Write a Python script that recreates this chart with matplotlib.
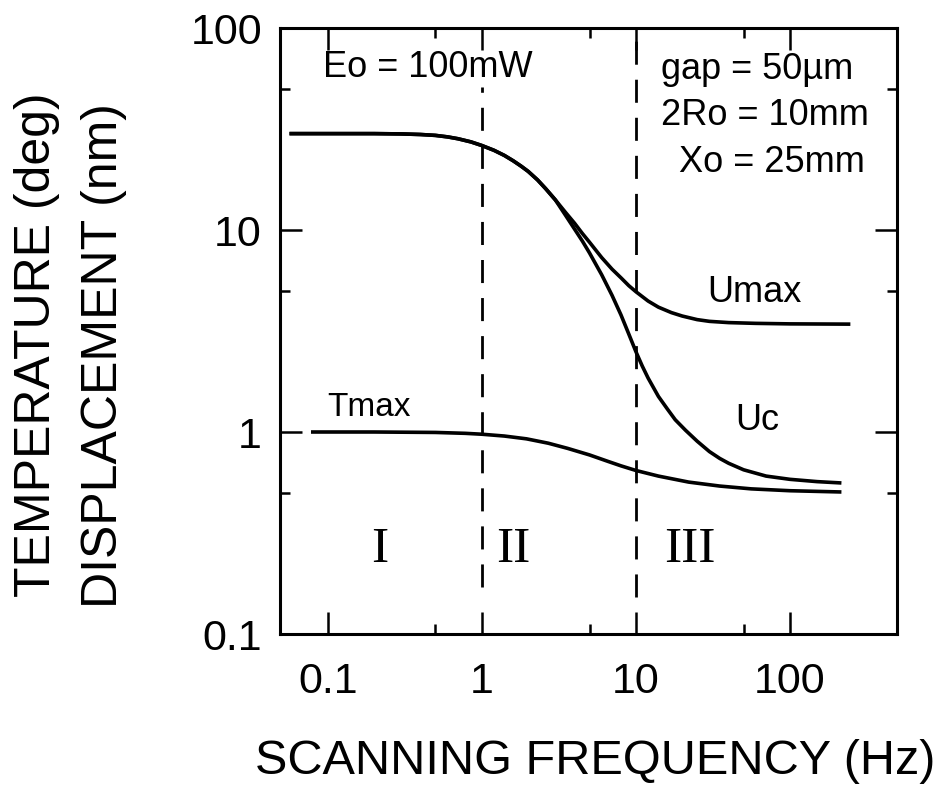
"""
Recreation: temperature / displacement vs. scanning frequency (log-log).
"""
import matplotlib
matplotlib.use('Agg')
import matplotlib.pyplot as plt
import matplotlib.ticker as mticker

plt.rcParams['font.family'] = ['Liberation Sans', 'DejaVu Sans']

# ── Data (frequency in Hz) ─────────────────────────────────
# Umax and Uc coincide up to ~3 Hz
u_common_freq = [0.058, 0.1, 0.2, 0.3, 0.4, 0.5, 0.6, 0.7, 0.85, 1.0, 1.2, 1.4,
                 1.6, 1.8, 2.0, 2.3, 2.6, 3.0]
u_common_vals = [30, 30, 30, 29.9, 29.7, 29.4, 28.9, 28.3, 27.3, 26.2, 24.8, 23.4,
                 22.0, 20.7, 19.5, 17.7, 16.0, 14.1]

umax_tail_freq = [3.5, 4.0, 4.5, 5, 6, 7, 8, 9, 10, 12, 14, 17, 20, 25, 30, 40,
                  60, 100, 240]
umax_tail_vals = [12.2, 10.8, 9.6, 8.7, 7.3, 6.4, 5.8, 5.3, 4.95, 4.45, 4.15, 3.9,
                  3.75, 3.6, 3.53, 3.48, 3.45, 3.43, 3.42]

uc_tail_freq = [3.5, 4.0, 4.5, 5, 6, 7, 8, 9, 10, 11, 12, 14, 16, 18, 21, 25, 30,
                35, 40, 50, 70, 100, 150, 210]
uc_tail_vals = [11.8, 10.1, 8.8, 7.7, 6.0, 4.75, 3.8, 3.05, 2.5, 2.12, 1.85, 1.5,
                1.3, 1.15, 1.02, 0.9, 0.8, 0.74, 0.7, 0.65, 0.605, 0.583, 0.568, 0.56]

tmax_freq = [0.08, 0.2, 0.5, 0.78, 1.0, 1.4, 1.95, 2.7, 3.6, 5, 6.6, 8, 10, 14, 22,
             35, 56, 100, 210]
tmax_vals = [1.0, 1.0, 0.995, 0.985, 0.975, 0.955, 0.925, 0.88, 0.83, 0.77, 0.715,
             0.68, 0.645, 0.605, 0.565, 0.54, 0.523, 0.512, 0.505]

region_bounds = [1, 10]          # dashed separators (Hz)
region_labels = ['I', 'II', 'III']
region_label_freq = [0.218, 1.6, 22.4]

umax_freq = u_common_freq + umax_tail_freq
umax_vals = u_common_vals + umax_tail_vals
uc_freq = u_common_freq + uc_tail_freq
uc_vals = u_common_vals + uc_tail_vals

# ── Figure ─────────────────────────────────────────────────
fig = plt.figure(figsize=(9.38, 7.88), dpi=100)
ax = fig.add_axes([280 / 938, 1 - 634 / 788, 617 / 938, 606 / 788])

ax.plot(umax_freq, umax_vals, '-', color='black', linewidth=2.6)
ax.plot(uc_freq, uc_vals, '-', color='black', linewidth=2.6)
ax.plot(tmax_freq, tmax_vals, '-', color='black', linewidth=2.6)

# region separators
ax.plot([region_bounds[0]] * 2, [0.17, 51], color='black', linewidth=2.0,
        linestyle=(0, (8.3, 5.4)))
ax.plot([region_bounds[1]] * 2, [0.152, 97], color='black', linewidth=2.0,
        linestyle=(0, (8.3, 5.4)))

ax.set_xscale('log')
ax.set_yscale('log')
ax.set_xlim(0.049, 495)
ax.set_ylim(0.1, 100)

ax.xaxis.set_major_locator(mticker.FixedLocator([0.1, 1, 10, 100]))
ax.xaxis.set_minor_locator(mticker.FixedLocator([0.5, 5, 50]))
ax.yaxis.set_major_locator(mticker.FixedLocator([0.1, 1, 10, 100]))
ax.yaxis.set_minor_locator(mticker.FixedLocator([0.5, 5, 50]))
ax.xaxis.set_major_formatter(mticker.FixedFormatter(['0.1', '1', '10', '100']))
ax.yaxis.set_major_formatter(mticker.FixedFormatter(['0.1', '1', '10', '100']))
ax.xaxis.set_minor_formatter(mticker.NullFormatter())
ax.yaxis.set_minor_formatter(mticker.NullFormatter())

ax.tick_params(which='both', direction='in', top=True, right=True, width=1.8)
ax.tick_params(which='major', length=16, labelsize=31)
ax.tick_params(axis='x', which='major', pad=20)
ax.tick_params(axis='y', which='major', pad=13)
ax.tick_params(which='minor', length=7)
for s in ax.spines.values():
    s.set_linewidth(2.2)

# ── Annotations ────────────────────────────────────────────
fs = 26
ax.text(0.093, 57, 'Eo = 100mW', fontsize=fs, va='baseline')
ax.text(14.5, 56, 'gap = 50µm', fontsize=fs, va='baseline')
ax.text(14.5, 33, '2Ro = 10mm', fontsize=fs, va='baseline')
ax.text(19, 19.4, 'Xo = 25mm', fontsize=fs, va='baseline')
ax.text(29, 4.4, 'Umax', fontsize=fs, va='baseline')
ax.text(44, 1.02, 'Uc', fontsize=fs, va='baseline')
ax.text(0.099, 1.2, 'Tmax', fontsize=24, va='baseline')
for lab, f in zip(region_labels, region_label_freq):
    ax.text(f, 0.227, lab, fontsize=37, ha='center', va='baseline',
            family=['Liberation Serif', 'DejaVu Serif'])

# axis titles
fig.text(37 / 938, 1 - 345 / 788, 'TEMPERATURE (deg)', rotation=90,
         fontsize=36, ha='center', va='center')
fig.text(104 / 938, 1 - 356 / 788, 'DISPLACEMENT (nm)', rotation=90,
         fontsize=36, ha='center', va='center')
fig.text(595 / 938, 1 - 762 / 788, 'SCANNING FREQUENCY (Hz)',
         fontsize=35, ha='center', va='center')

fig.savefig('out.png', dpi=100)
plt.close(fig)
